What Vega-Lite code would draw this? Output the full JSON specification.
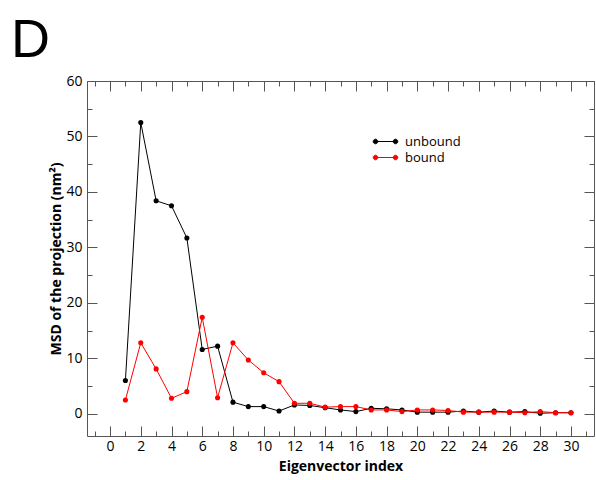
{
  "$schema": "https://vega.github.io/schema/vega-lite/v6.json",
  "width": 507,
  "height": 355,
  "autosize": {"type": "none"},
  "padding": {"left": 87, "top": 81, "right": 2, "bottom": 44},
  "background": "white",
  "title": {"text": "D", "font": "Liberation Sans", "fontSize": 54, "fontWeight": "normal", "anchor": "start", "frame": "group", "dx": -76, "dy": 60, "offset": 23, "baseline": "alphabetic", "color": "#000"},
  "data": {"values": [
    {"i": 1, "s": "unbound", "v": 6.0}, {"i": 2, "s": "unbound", "v": 52.5}, {"i": 3, "s": "unbound", "v": 38.4}, {"i": 4, "s": "unbound", "v": 37.5}, {"i": 5, "s": "unbound", "v": 31.7},
    {"i": 6, "s": "unbound", "v": 11.6}, {"i": 7, "s": "unbound", "v": 12.2}, {"i": 8, "s": "unbound", "v": 2.1}, {"i": 9, "s": "unbound", "v": 1.3}, {"i": 10, "s": "unbound", "v": 1.3},
    {"i": 11, "s": "unbound", "v": 0.5}, {"i": 12, "s": "unbound", "v": 1.6}, {"i": 13, "s": "unbound", "v": 1.5}, {"i": 14, "s": "unbound", "v": 1.1}, {"i": 15, "s": "unbound", "v": 0.7},
    {"i": 16, "s": "unbound", "v": 0.4}, {"i": 17, "s": "unbound", "v": 1.0}, {"i": 18, "s": "unbound", "v": 0.9}, {"i": 19, "s": "unbound", "v": 0.7}, {"i": 20, "s": "unbound", "v": 0.3},
    {"i": 21, "s": "unbound", "v": 0.3}, {"i": 22, "s": "unbound", "v": 0.3}, {"i": 23, "s": "unbound", "v": 0.5}, {"i": 24, "s": "unbound", "v": 0.3}, {"i": 25, "s": "unbound", "v": 0.5},
    {"i": 26, "s": "unbound", "v": 0.3}, {"i": 27, "s": "unbound", "v": 0.4}, {"i": 28, "s": "unbound", "v": 0.1}, {"i": 29, "s": "unbound", "v": 0.2}, {"i": 30, "s": "unbound", "v": 0.2},
    {"i": 1, "s": "bound", "v": 2.5}, {"i": 2, "s": "bound", "v": 12.8}, {"i": 3, "s": "bound", "v": 8.1}, {"i": 4, "s": "bound", "v": 2.8}, {"i": 5, "s": "bound", "v": 4.0},
    {"i": 6, "s": "bound", "v": 17.4}, {"i": 7, "s": "bound", "v": 2.9}, {"i": 8, "s": "bound", "v": 12.8}, {"i": 9, "s": "bound", "v": 9.7}, {"i": 10, "s": "bound", "v": 7.4},
    {"i": 11, "s": "bound", "v": 5.8}, {"i": 12, "s": "bound", "v": 1.9}, {"i": 13, "s": "bound", "v": 1.9}, {"i": 14, "s": "bound", "v": 1.2}, {"i": 15, "s": "bound", "v": 1.3},
    {"i": 16, "s": "bound", "v": 1.3}, {"i": 17, "s": "bound", "v": 0.7}, {"i": 18, "s": "bound", "v": 0.7}, {"i": 19, "s": "bound", "v": 0.4}, {"i": 20, "s": "bound", "v": 0.7},
    {"i": 21, "s": "bound", "v": 0.7}, {"i": 22, "s": "bound", "v": 0.6}, {"i": 23, "s": "bound", "v": 0.3}, {"i": 24, "s": "bound", "v": 0.3}, {"i": 25, "s": "bound", "v": 0.3},
    {"i": 26, "s": "bound", "v": 0.3}, {"i": 27, "s": "bound", "v": 0.2}, {"i": 28, "s": "bound", "v": 0.4}, {"i": 29, "s": "bound", "v": 0.2}, {"i": 30, "s": "bound", "v": 0.2}
  ]},
  "encoding": {
    "color": {
      "field": "s", "type": "nominal",
      "scale": {"domain": ["unbound", "bound"], "range": ["#000000", "#ff0000"]},
      "legend": {
        "title": null, "orient": "none", "legendX": 292, "legendY": 54, "padding": 0,
        "symbolType": "M-2,0L2,0M-2.46,0A0.46,0.46,0,1,1,-1.54,0A0.46,0.46,0,1,1,-2.46,0ZM1.54,0A0.46,0.46,0,1,1,2.46,0A0.46,0.46,0,1,1,1.54,0Z",
        "symbolSize": 100, "symbolStrokeWidth": 1, "labelOffset": 13, "rowPadding": 2,
        "labelFont": "Open Sans", "labelFontSize": 13, "labelColor": "#000",
        "encode": {"symbols": {"update": {"fill": {"scale": "color", "field": "value"}, "stroke": {"scale": "color", "field": "value"}, "opacity": {"value": 1}}}}
      }
    }
  },
  "layer": [
    {
      "mark": {"type": "line", "strokeWidth": 1},
      "encoding": {
        "x": {"field": "i", "type": "quantitative", "scale": {"domain": [-1.5, 31.5], "nice": false, "zero": false},
          "axis": {"orient": "bottom", "values": [0, 2, 4, 6, 8, 10, 12, 14, 16, 18, 20, 22, 24, 26, 28, 30], "tickSize": -10, "labelPadding": 13, "title": "Eigenvector index", "titlePadding": 6}},
        "y": {"field": "v", "type": "quantitative", "scale": {"domain": [-4, 60], "nice": false, "zero": false},
          "axis": {"orient": "left", "values": [0, 10, 20, 30, 40, 50, 60], "tickSize": -10, "labelPadding": 15, "title": "MSD of the projection (nm²)", "titlePadding": 2}}
      }
    },
    {
      "mark": {"type": "point", "filled": true, "size": 26, "opacity": 1},
      "encoding": {
        "x": {"field": "i", "type": "quantitative", "scale": {"domain": [-1.5, 31.5], "nice": false, "zero": false},
          "axis": {"orient": "bottom", "values": [-1, 1, 3, 5, 7, 9, 11, 13, 15, 17, 19, 21, 23, 25, 27, 29, 31], "tickSize": -5, "labels": false, "title": null}},
        "y": {"field": "v", "type": "quantitative", "scale": {"domain": [-4, 60], "nice": false, "zero": false},
          "axis": {"orient": "left", "values": [5, 15, 25, 35, 45, 55], "tickSize": -5, "labels": false, "title": null}}
      }
    },
    {
      "mark": {"type": "point", "filled": true, "size": 26, "opacity": 0},
      "encoding": {
        "x": {"field": "i", "type": "quantitative", "scale": {"domain": [-1.5, 31.5], "nice": false, "zero": false},
          "axis": {"orient": "top", "values": [0, 2, 4, 6, 8, 10, 12, 14, 16, 18, 20, 22, 24, 26, 28, 30], "tickSize": -10, "labels": false, "title": null}},
        "y": {"field": "v", "type": "quantitative", "scale": {"domain": [-4, 60], "nice": false, "zero": false},
          "axis": {"orient": "right", "values": [0, 10, 20, 30, 40, 50, 60], "tickSize": -10, "labels": false, "title": null}}
      }
    },
    {
      "mark": {"type": "point", "filled": true, "size": 26, "opacity": 0},
      "encoding": {
        "x": {"field": "i", "type": "quantitative", "scale": {"domain": [-1.5, 31.5], "nice": false, "zero": false},
          "axis": {"orient": "top", "values": [-1, 1, 3, 5, 7, 9, 11, 13, 15, 17, 19, 21, 23, 25, 27, 29, 31], "tickSize": -5, "labels": false, "title": null}},
        "y": {"field": "v", "type": "quantitative", "scale": {"domain": [-4, 60], "nice": false, "zero": false},
          "axis": {"orient": "right", "values": [5, 15, 25, 35, 45, 55], "tickSize": -5, "labels": false, "title": null}}
      }
    }
  ],
  "resolve": {"axis": {"x": "independent", "y": "independent"}},
  "config": {
    "view": {"stroke": "#555555", "strokeWidth": 1},
    "axis": {
      "domain": false, "grid": false, "tickColor": "#555555", "tickWidth": 1,
      "labelFont": "Open Sans", "labelFontSize": 14, "labelColor": "#000",
      "titleFont": "Open Sans", "titleFontSize": 14, "titleFontWeight": "bold", "titleColor": "#000"
    }
  }
}
